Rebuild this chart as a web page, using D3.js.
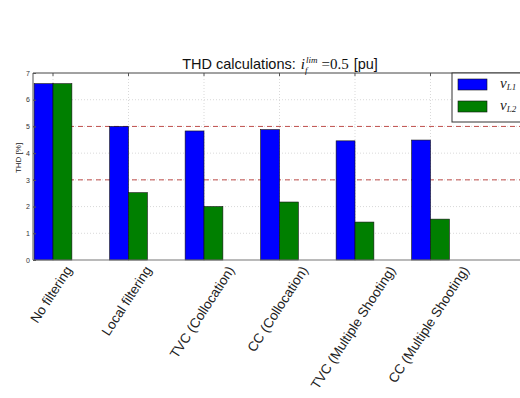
<!DOCTYPE html>
<html>
<head>
<meta charset="utf-8">
<script src="https://cdn.jsdelivr.net/npm/d3@7"></script>
<style>
  body { margin: 0; background: #fff; }
  svg { display: block; }
</style>
</head>
<body>
<svg id="chart" width="520" height="398"></svg>
<script>
// data
var categories = ["No filtering", "Local filtering", "TVC (Collocation)", "CC (Collocation)",
                  "TVC (Multiple Shooting)", "CC (Multiple Shooting)"];
var vL1 = [6.6, 5.0, 4.83, 4.88, 4.46, 4.49];
var vL2 = [6.6, 2.52, 2.0, 2.17, 1.42, 1.53];
var yTicks = [0, 1, 2, 3, 4, 5, 6, 7];
var limits = [3, 5];

var SANS = "Liberation Sans, Arial, sans-serif";
var SERIF = "Liberation Serif, Times New Roman, serif";

var svg = d3.select("#chart").style("font-family", SANS);

var x = d3.scaleLinear().domain([0.735, 7.265]).range([33, 526]);
var y = d3.scaleLinear().domain([0, 7]).range([260, 73]);
var barW = 0.25;

var plot = svg.append("g");

// grid
plot.selectAll(".hgrid").data(yTicks.slice(1, -1)).enter().append("line")
  .attr("x1", x.range()[0]).attr("x2", x.range()[1])
  .attr("y1", d => y(d)).attr("y2", d => y(d))
  .attr("stroke", "#cfcfcf").attr("stroke-width", 0.8).attr("stroke-dasharray", "1,2");
plot.selectAll(".vgrid").data(categories).enter().append("line")
  .attr("x1", (d, i) => x(i + 1)).attr("x2", (d, i) => x(i + 1))
  .attr("y1", y(0)).attr("y2", y(7))
  .attr("stroke", "#cfcfcf").attr("stroke-width", 0.8).attr("stroke-dasharray", "1,2");

// limit lines
plot.selectAll(".lim").data(limits).enter().append("line")
  .attr("x1", x.range()[0]).attr("x2", x.range()[1])
  .attr("y1", d => y(d)).attr("y2", d => y(d))
  .attr("stroke", "#c0504d").attr("stroke-width", 1).attr("stroke-dasharray", "5,4");

// bars
plot.selectAll(".b1").data(vL1).enter().append("rect")
  .attr("x", (d, i) => x(i + 1 - barW)).attr("width", x(barW) - x(0))
  .attr("y", d => y(d)).attr("height", d => y(0) - y(d))
  .attr("fill", "#0000ff").attr("stroke", "#111").attr("stroke-width", 0.6);
plot.selectAll(".b2").data(vL2).enter().append("rect")
  .attr("x", (d, i) => x(i + 1)).attr("width", x(barW) - x(0))
  .attr("y", d => y(d)).attr("height", d => y(0) - y(d))
  .attr("fill", "#007f00").attr("stroke", "#111").attr("stroke-width", 0.6);

// axes box
plot.append("line").attr("x1", x.range()[0]).attr("x2", x.range()[1])
  .attr("y1", y(7)).attr("y2", y(7)).attr("stroke", "#444").attr("stroke-width", 1);
plot.append("line").attr("x1", x.range()[0]).attr("x2", x.range()[1])
  .attr("y1", y(0)).attr("y2", y(0)).attr("stroke", "#777").attr("stroke-width", 1.2);
plot.append("line").attr("x1", x.range()[0]).attr("x2", x.range()[0])
  .attr("y1", y(0)).attr("y2", y(7)).attr("stroke", "#555").attr("stroke-width", 1);

// top ticks
plot.selectAll(".tt").data(categories).enter().append("line")
  .attr("x1", (d, i) => x(i + 1)).attr("x2", (d, i) => x(i + 1))
  .attr("y1", y(7)).attr("y2", y(7) + 3).attr("stroke", "#555");

// y axis labels
var yAxis = d3.axisLeft(y).tickValues(yTicks).tickFormat(d3.format("d")).tickSize(-3).tickPadding(3);
var ya = svg.append("g").attr("transform", "translate(" + x.range()[0] + ",0)").call(yAxis);
ya.select(".domain").remove();
ya.selectAll("line").attr("stroke", "#555");
ya.selectAll("text").style("font-size", "7px").style("font-family", SANS).attr("fill", "#333");

svg.append("text").attr("transform", "translate(21,158) rotate(-90)")
  .attr("text-anchor", "middle").style("font-size", "8px").attr("fill", "#222").text("THD [%]");

// x labels, rotated
var ang = 57;
var rad = ang * Math.PI / 180;
svg.selectAll(".xl").data(categories).enter().append("text")
  .style("font-size", "13.5px").attr("fill", "#222")
  .attr("text-anchor", "middle")
  .text(d => d)
  .each(function (d, i) {
    var L = this.getComputedTextLength();
    var cy = 266 + (L / 2) * Math.sin(rad) + 4;
    d3.select(this).attr("transform", "translate(" + (x(i + 1) + 2) + "," + cy + ") rotate(" + (-ang) + ")");
  });

// title, laid out piece by piece
var titleParts = [
  { t: "THD calculations:", f: SANS, s: 14.5, st: "normal", dy: 0, gap: 5 },
  { t: "i", f: SERIF, s: 15, st: "italic", dy: 0, gap: 1 },
  { t: "lim", f: SERIF, s: 9, st: "italic", dy: -6, gap: 4, keep: true },
  { t: "f", f: SERIF, s: 9, st: "italic", dy: 4, back: true },
  { t: "=0.5", f: SERIF, s: 15, st: "normal", dy: 0, gap: 5 },
  { t: "[pu]", f: SANS, s: 14.5, st: "normal", dy: 0, gap: 0 }
];
var tg = svg.append("g");
var cx = 0, supStart = 0;
titleParts.forEach(function (p) {
  var el = tg.append("text").attr("y", 69 + p.dy).attr("fill", "#111")
    .style("font-family", p.f).style("font-size", p.s + "px").style("font-style", p.st).text(p.t);
  var w = el.node().getComputedTextLength();
  if (p.back) { el.attr("x", supStart - 1); return; }
  if (p.keep) supStart = cx;
  el.attr("x", cx);
  cx += w + p.gap;
});
tg.attr("transform", "translate(" + (280 - cx / 2) + ",0)");

// legend
var leg = svg.append("g");
leg.append("rect").attr("x", 452).attr("y", 73).attr("width", 80).attr("height", 49)
  .attr("fill", "#fff").attr("stroke", "#333").attr("stroke-width", 1);
var legItems = [{ c: "#0000ff", s: "L1" }, { c: "#007f00", s: "L2" }];
legItems.forEach(function (it, i) {
  var yy = 79 + i * 22;
  leg.append("rect").attr("x", 458).attr("y", yy).attr("width", 29).attr("height", 11)
    .attr("fill", it.c).attr("stroke", "#111").attr("stroke-width", 0.6);
  var t = leg.append("text").attr("x", 500).attr("y", yy + 9).attr("fill", "#222")
    .style("font-family", SERIF).style("font-style", "italic").style("font-size", "15px");
  t.append("tspan").text("v");
  t.append("tspan").style("font-size", "9px").attr("dy", 2).text(it.s);
});
</script>
</body>
</html>
